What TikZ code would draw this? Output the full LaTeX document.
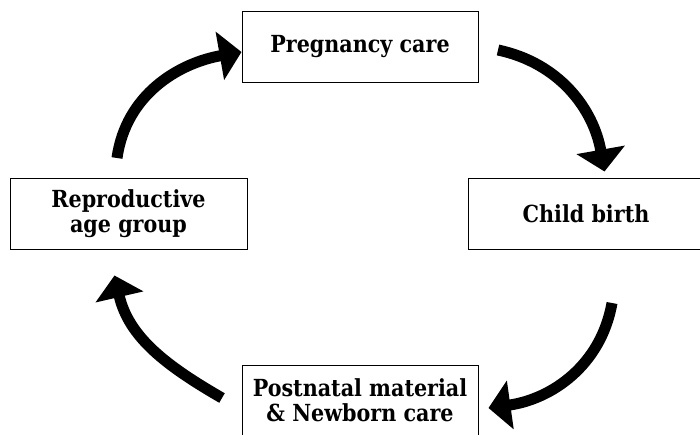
\documentclass[tikz,border=0pt]{standalone}
\usepackage{fontspec}
\newfontfamily\labfont{DejaVu Serif}[FakeStretch=0.88]
\usetikzlibrary{arrows.meta}
\tikzset{
  box/.style={draw=black, line width=1pt, minimum height=71pt, inner sep=0pt,
    align=center, font=\labfont\bfseries\fontsize{23.5}{25}\selectfont},
  bigarrow/.style={line width=11pt, -{Triangle[length=22pt,width=48pt]}},
}
\begin{document}
\begin{tikzpicture}[x=1pt,y=-1pt]
\useasboundingbox (0,0) rectangle (700,434);
\node[box, minimum width=236pt] (top) at (360,46.5) {Pregnancy care};
\node[box, minimum width=237pt] (left) at (128.5,213.5) {Reproductive\\age group};
\node[box, minimum width=236pt] (right) at (586,213.5) {Child birth};
\node[box, minimum width=236pt] (bot) at (360,400.5) {Postnatal material\\\& Newborn care};
\coordinate (s1) at (498,50);
\coordinate (s2) at (117,158);
\coordinate (s3) at (612,303);
\coordinate (s4) at (222,398);
\draw[bigarrow] (s1) to[out=-12,in=100] ([xshift=137pt,yshift=6pt]right.north west);
\draw[bigarrow] (s2) to[out=82,in=-170] ([yshift=-5.5pt]top.west);
\draw[bigarrow] (s3) to[out=-100,in=8] ([xshift=10pt,yshift=-7.5pt]bot.east);
\draw[bigarrow] (s4) to[out=150,in=-77] ([xshift=105pt,yshift=-26pt]left.south west);
\end{tikzpicture}
\end{document}
